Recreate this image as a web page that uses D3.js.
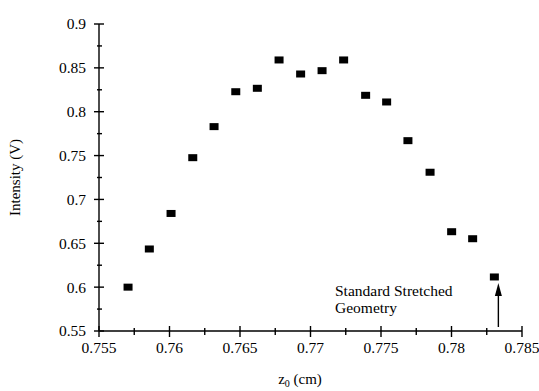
<!DOCTYPE html>
<html>
<head>
<meta charset="utf-8">
<script src="https://cdn.jsdelivr.net/npm/d3@7"></script>
<style>
  body { margin: 0; background: #fff; }
  svg { display: block; font-family: "Liberation Serif", "DejaVu Serif", serif; }
</style>
</head>
<body>
<div id="chart"></div>
<script>
// data
const zPos = [0.75706, 0.75857, 0.76011, 0.76165, 0.76316, 0.76470, 0.76623, 0.76777, 0.76930,
              0.77082, 0.77235, 0.77391, 0.77540, 0.77691, 0.77848, 0.78001, 0.78150, 0.78304];
const intensity = [0.600, 0.6435, 0.684, 0.7476, 0.783, 0.8228, 0.8267, 0.859, 0.843,
                   0.8468, 0.859, 0.8187, 0.8111, 0.767, 0.731, 0.6632, 0.6552, 0.6116];
const xTicks = [0.755, 0.76, 0.765, 0.77, 0.775, 0.78, 0.785];
const yTicks = [0.55, 0.6, 0.65, 0.7, 0.75, 0.8, 0.85, 0.9];
const noteLines = ["Standard Stretched", "Geometry"];
const notePoint = 17; // index of the annotated point

const WIDTH = 539, HEIGHT = 391;
const margin = {left: 99, right: 17, top: 24, bottom: 60};

const x = d3.scaleLinear().domain([0.755, 0.785]).range([margin.left, WIDTH - margin.right]);
const y = d3.scaleLinear().domain([0.55, 0.9]).range([HEIGHT - margin.bottom, margin.top]);

const svg = d3.select("#chart").append("svg")
    .attr("width", WIDTH)
    .attr("height", HEIGHT);

// minor ticks at half steps
const xMinor = d3.range(xTicks.length - 1).map(i => (xTicks[i] + xTicks[i + 1]) / 2);
const yMinor = d3.range(yTicks.length - 1).map(i => (yTicks[i] + yTicks[i + 1]) / 2);

const x0 = y.range()[0];
const y0 = x.range()[0];

const axes = svg.append("g").attr("stroke", "#000").attr("stroke-width", 1.4);

axes.append("line")
    .attr("x1", x.range()[0]).attr("x2", x.range()[1])
    .attr("y1", x0).attr("y2", x0);
axes.append("line")
    .attr("x1", y0).attr("x2", y0)
    .attr("y1", y.range()[0]).attr("y2", y.range()[1]);

axes.selectAll(".xt").data(xTicks).join("line")
    .attr("x1", d => x(d)).attr("x2", d => x(d))
    .attr("y1", x0 - 5).attr("y2", x0 + 6);
axes.selectAll(".xm").data(xMinor).join("line")
    .attr("x1", d => x(d)).attr("x2", d => x(d))
    .attr("y1", x0 - 3).attr("y2", x0 + 4);
axes.selectAll(".yt").data(yTicks).join("line")
    .attr("y1", d => y(d)).attr("y2", d => y(d))
    .attr("x1", y0 - 5).attr("x2", y0 + 5);
axes.selectAll(".ym").data(yMinor).join("line")
    .attr("y1", d => y(d)).attr("y2", d => y(d))
    .attr("x1", y0 - 2).attr("x2", y0 + 3);

const fmt = d => String(+d.toFixed(3));

svg.append("g").selectAll("text").data(xTicks).join("text")
    .attr("x", d => x(d))
    .attr("y", x0 + 22)
    .attr("text-anchor", "middle")
    .attr("font-size", 15.5)
    .text(fmt);

svg.append("g").selectAll("text").data(yTicks).join("text")
    .attr("x", y0 - 13)
    .attr("y", d => y(d))
    .attr("dy", "0.35em")
    .attr("text-anchor", "end")
    .attr("font-size", 15.5)
    .text(fmt);

// axis titles
svg.append("text")
    .attr("transform", `translate(20,${(y.range()[0] + y.range()[1]) / 2}) rotate(-90)`)
    .attr("text-anchor", "middle")
    .attr("font-size", 15)
    .text("Intensity (V)");

const xt = svg.append("text")
    .attr("x", 300)
    .attr("y", 384)
    .attr("text-anchor", "middle")
    .attr("font-size", 15);
xt.append("tspan").text("z");
xt.append("tspan").attr("font-size", 10).attr("dy", 3).text("0");
xt.append("tspan").attr("dy", -3).text(" (cm)");

// points
const pts = zPos.map((z, i) => ({z: z, v: intensity[i]}));
svg.append("g").selectAll("rect").data(pts).join("rect")
    .attr("x", d => x(d.z) - 4.5)
    .attr("y", d => y(d.v) - 3.5)
    .attr("width", 9)
    .attr("height", 7)
    .attr("fill", "#000");

// annotation
const p = pts[notePoint];
const ax = x(p.z) + 4;
svg.append("line")
    .attr("x1", ax).attr("x2", ax)
    .attr("y1", x0 - 4).attr("y2", y(p.v) + 18)
    .attr("stroke", "#000").attr("stroke-width", 1.4);
svg.append("path")
    .attr("d", `M${ax},${y(p.v) + 6} L${ax - 3.5},${y(p.v) + 19} L${ax + 3.5},${y(p.v) + 19} Z`)
    .attr("fill", "#000");

svg.append("g").selectAll("text").data(noteLines).join("text")
    .attr("x", 335)
    .attr("y", (d, i) => 296 + i * 17)
    .attr("font-size", 15.5)
    .text(d => d);
</script>
</body>
</html>
